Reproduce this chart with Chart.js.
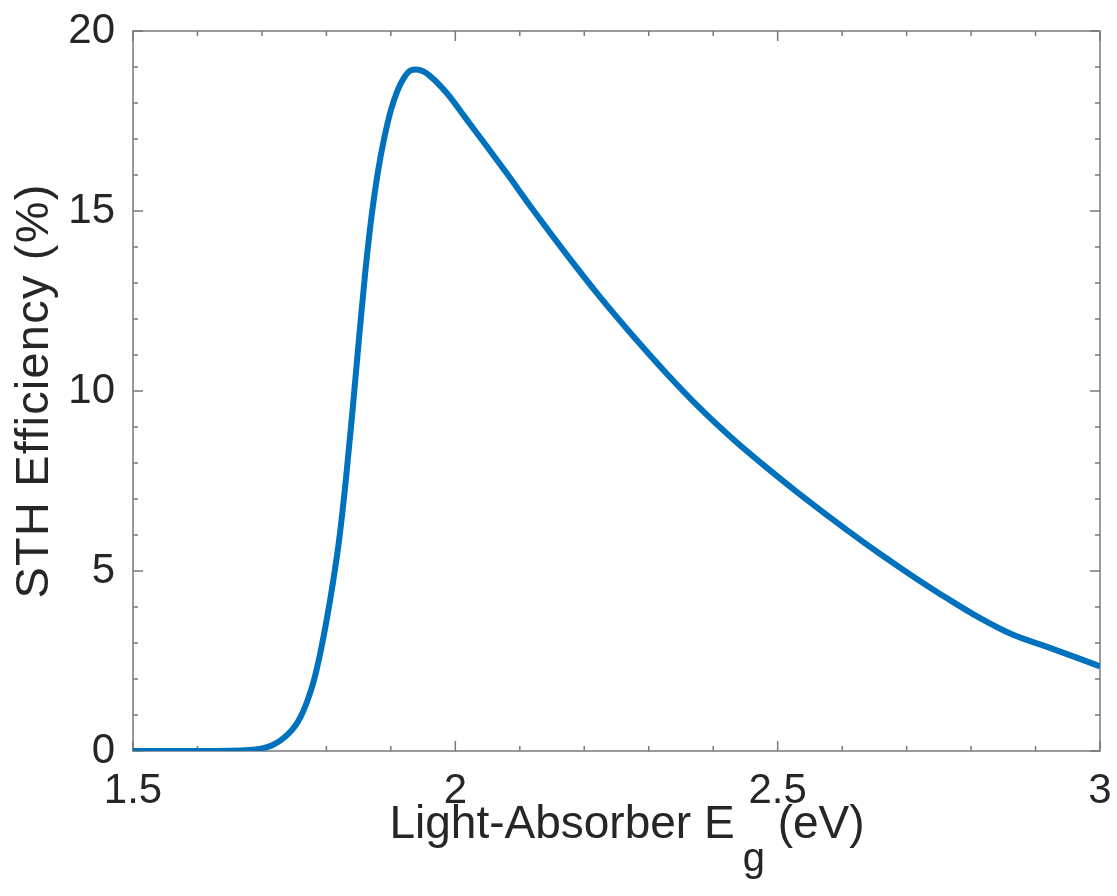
<!DOCTYPE html>
<html>
<head>
<meta charset="utf-8">
<title>STH Efficiency vs Light-Absorber Band Gap</title>
<script src="https://cdn.jsdelivr.net/npm/chart.js@4.4.1/dist/chart.umd.min.js"></script>
<style>
  html, body { margin: 0; padding: 0; background: #ffffff; }
  #wrap { position: relative; width: 1117px; height: 896px; }
</style>
</head>
<body>
<div id="wrap"><canvas id="chart"></canvas></div>
<script>
// Light-absorber band gap (eV)
const bandGap = [
  1.50, 1.60, 1.65, 1.68, 1.69, 1.70, 1.71, 1.72, 1.73, 1.74,
  1.75, 1.76, 1.77, 1.78, 1.79, 1.80, 1.81, 1.82, 1.83, 1.84,
  1.85, 1.86, 1.87, 1.88, 1.89, 1.90, 1.91, 1.92, 1.93, 1.94,
  1.95, 1.96, 1.987, 2.018, 2.049, 2.080, 2.121, 2.173, 2.224, 2.276,
  2.328, 2.379, 2.431, 2.483, 2.535, 2.607, 2.659, 2.710, 2.762, 2.814,
  2.866, 2.917, 2.969, 3.00
];
// Solar-to-hydrogen efficiency (%)
const sthEfficiency = [
  0.00, 0.00, 0.01, 0.03, 0.045, 0.07, 0.12, 0.20, 0.31, 0.46,
  0.66, 0.95, 1.37, 1.92, 2.68, 3.60, 4.66, 5.90, 7.50, 9.35,
  11.35, 13.25, 14.85, 16.10, 17.05, 17.80, 18.33, 18.69, 18.90, 18.93,
  18.88, 18.76, 18.27, 17.53, 16.79, 16.04, 15.02, 13.78, 12.62, 11.52,
  10.48, 9.53, 8.66, 7.87, 7.12, 6.14, 5.47, 4.85, 4.25, 3.69,
  3.22, 2.90, 2.56, 2.35
];

const xTickValues = [1.5, 2, 2.5, 3];
const xTickLabels = ['1.5', '2', '2.5', '3'];
const yTickValues = [0, 5, 10, 15, 20];
const yTickLabels = ['0', '5', '10', '15', '20'];

const xTitleParts = ['Light-Absorber E', 'g', ' (eV)'];
const yTitle = 'STH Efficiency (%)';

const FONT = '"Liberation Sans", Arial, Helvetica, sans-serif';
const TEXT_COLOR = '#262626';
const AXIS_COLOR = '#7a7a7a';
const LINE_COLOR = '#0072BD';

// Box frame with inward major/minor ticks on all four sides
const frameTicks = {
  id: 'frameTicks',
  beforeDatasetsDraw(chart) {
    const { ctx, chartArea: a, scales: { x, y } } = chart;
    ctx.save();
    ctx.strokeStyle = AXIS_COLOR;
    ctx.lineWidth = 1.5;
    ctx.strokeRect(a.left, a.top, a.right - a.left, a.bottom - a.top);
    ctx.beginPath();
    const xMinor = 0.1, yMinor = 1;
    const nx = Math.round((x.max - x.min) / xMinor);
    for (let i = 0; i <= nx; i++) {
      const v = x.min + i * xMinor;
      const len = (i % 5 === 0) ? 10 : 5;
      const px = x.getPixelForValue(v);
      ctx.moveTo(px, a.bottom); ctx.lineTo(px, a.bottom - len);
      ctx.moveTo(px, a.top); ctx.lineTo(px, a.top + len);
    }
    const ny = Math.round((y.max - y.min) / yMinor);
    for (let j = 0; j <= ny; j++) {
      const v = y.min + j * yMinor;
      const len = (j % 5 === 0) ? 10 : 5;
      const py = y.getPixelForValue(v);
      ctx.moveTo(a.left, py); ctx.lineTo(a.left + len, py);
      ctx.moveTo(a.right, py); ctx.lineTo(a.right - len, py);
    }
    ctx.stroke();
    ctx.restore();
  }
};

// Axis titles (x title carries a subscript g)
const axisTitles = {
  id: 'axisTitles',
  afterDraw(chart) {
    const { ctx } = chart;
    ctx.save();
    ctx.fillStyle = TEXT_COLOR;
    ctx.textBaseline = 'alphabetic';

    // y title, rotated
    ctx.save();
    ctx.translate(48, 391);
    ctx.rotate(-Math.PI / 2);
    ctx.textAlign = 'center';
    ctx.font = '47px ' + FONT;
    if ('letterSpacing' in ctx) ctx.letterSpacing = '1.2px';
    ctx.fillText(yTitle, 0, 0);
    ctx.restore();

    // x title with subscript
    const mainFont = '46px ' + FONT;
    const subFont = '40px ' + FONT;
    ctx.textAlign = 'left';
    ctx.font = mainFont;
    const w1 = ctx.measureText(xTitleParts[0]).width;
    const w3 = ctx.measureText(xTitleParts[2]).width;
    ctx.font = subFont;
    const w2 = ctx.measureText(xTitleParts[1]).width;
    const gap = 8;
    const total = w1 + gap + w2 + w3;
    const cx = 627, base = 838;
    let xPos = cx - total / 2;
    ctx.font = mainFont;
    ctx.fillText(xTitleParts[0], xPos, base);
    xPos += w1 + gap;
    ctx.font = subFont;
    ctx.fillText(xTitleParts[1], xPos, base + 33);
    xPos += w2;
    ctx.font = mainFont;
    ctx.fillText(xTitleParts[2], xPos, base);
    ctx.restore();
  }
};

function zeroScalePadding(scale) {
  scale.paddingTop = 0;
  scale.paddingBottom = 0;
  scale.paddingLeft = 0;
  scale.paddingRight = 0;
}

const points = bandGap.map((e, i) => ({ x: e, y: sthEfficiency[i] }));

new Chart(document.getElementById('chart'), {
  type: 'line',
  data: {
    datasets: [{
      data: points,
      borderColor: LINE_COLOR,
      borderWidth: 6,
      pointRadius: 0,
      fill: false,
      cubicInterpolationMode: 'monotone'
    }]
  },
  options: {
    responsive: true,
    maintainAspectRatio: false,
    animation: false,
    events: [],
    layout: { padding: { top: 31, right: 17, left: 0, bottom: 0 } },
    plugins: { legend: { display: false }, tooltip: { enabled: false } },
    scales: {
      x: {
        type: 'linear',
        min: 1.5,
        max: 3,
        grid: { display: false, drawTicks: false },
        border: { display: false },
        afterFit(scale) { scale.height = 145; zeroScalePadding(scale); },
        afterBuildTicks(scale) { scale.ticks = xTickValues.map(v => ({ value: v })); },
        ticks: {
          autoSkip: false,
          maxRotation: 0,
          padding: 15,
          color: TEXT_COLOR,
          font: { family: FONT, size: 42 },
          callback: (value) => xTickLabels[xTickValues.indexOf(value)]
        }
      },
      y: {
        type: 'linear',
        min: 0,
        max: 20,
        grid: { display: false, drawTicks: false },
        border: { display: false },
        afterFit(scale) { scale.width = 133; zeroScalePadding(scale); },
        afterBuildTicks(scale) { scale.ticks = yTickValues.map(v => ({ value: v })); },
        ticks: {
          autoSkip: false,
          padding: 18,
          color: TEXT_COLOR,
          font: { family: FONT, size: 42 },
          callback: (value) => yTickLabels[yTickValues.indexOf(value)]
        }
      }
    }
  },
  plugins: [frameTicks, axisTitles]
});
</script>
</body>
</html>
